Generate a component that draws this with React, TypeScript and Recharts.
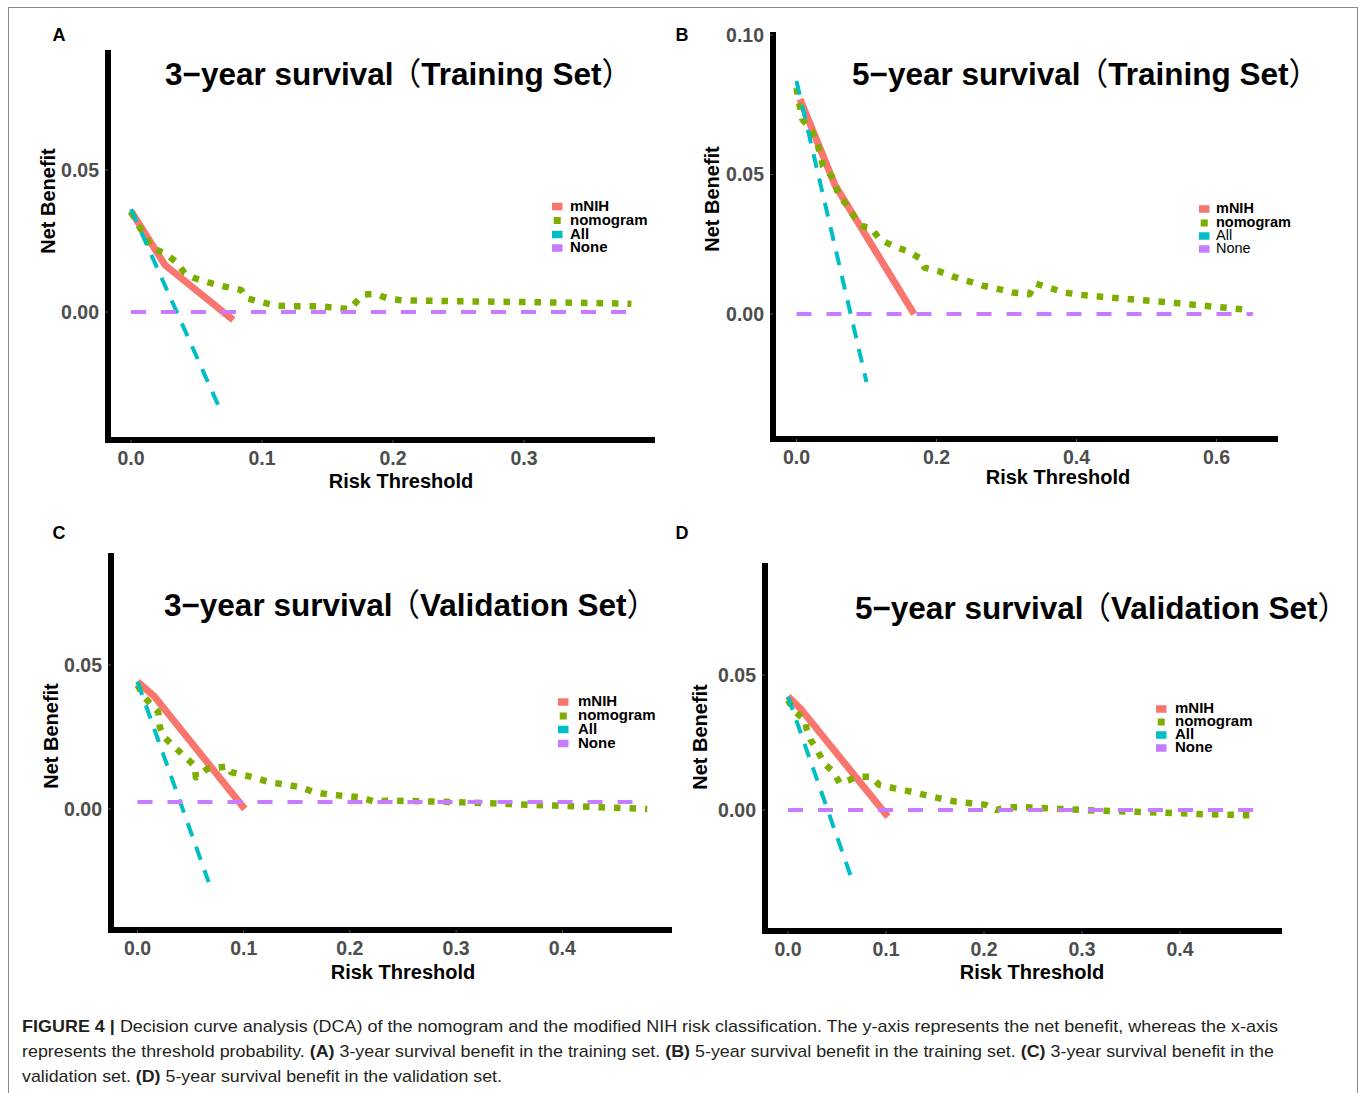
import React from 'react';
import { LineChart, Line, XAxis, YAxis } from 'recharts';

// ---------- colours ----------
const C_MNIH = '#F8766D';
const C_NOM = '#7CAE00';
const C_ALL = '#00BFC4';
const C_NONE = '#C77CFF';

// ---------- Panel A: 3-year survival (Training Set) ----------
const aMnihX = [0, 0.026, 0.078];
const aMnihY = [0.0355, 0.0165, -0.0028];
const aNomX = [0, 0.007, 0.016, 0.026, 0.034, 0.041, 0.048, 0.059, 0.071, 0.084, 0.088, 0.1, 0.111, 0.123, 0.145, 0.167, 0.177, 0.186, 0.197, 0.208, 0.25, 0.3, 0.35, 0.382];
const aNomY = [0.0352, 0.0295, 0.0225, 0.0207, 0.0178, 0.0137, 0.012, 0.0104, 0.009, 0.0078, 0.0049, 0.0034, 0.0022, 0.002, 0.002, 0.001, 0.0061, 0.0064, 0.0046, 0.0041, 0.0038, 0.0035, 0.0032, 0.0029];
const aAllX = [0, 0.0685];
const aAllY = [0.0362, -0.0348];
const aNoneX = [0, 0.382];
const aNoneY = [0, 0];
const aXTicks = [0, 0.1, 0.2, 0.3];
const aYTicks = [0, 0.05];

// ---------- Panel B: 5-year survival (Training Set) ----------
const bMnihX = [0.005, 0.055, 0.168];
const bMnihY = [0.077, 0.0462, 0];
const bNomX = [0, 0.008, 0.023, 0.031, 0.038, 0.053, 0.06, 0.072, 0.082, 0.095, 0.107, 0.119, 0.139, 0.159, 0.176, 0.183, 0.205, 0.225, 0.245, 0.267, 0.289, 0.309, 0.333, 0.341, 0.36, 0.383, 0.405, 0.447, 0.491, 0.535, 0.58, 0.619, 0.649];
const bNomY = [0.081, 0.07, 0.065, 0.06, 0.053, 0.0486, 0.0427, 0.039, 0.035, 0.0314, 0.0308, 0.0267, 0.0243, 0.0225, 0.02, 0.0166, 0.0152, 0.0133, 0.0118, 0.0101, 0.0089, 0.0077, 0.0071, 0.0109, 0.0095, 0.0077, 0.0069, 0.0059, 0.005, 0.0041, 0.003, 0.0021, 0.0014];
const bAllX = [0, 0.1];
const bAllY = [0.0835, -0.0244];
const bNoneX = [0, 0.652];
const bNoneY = [0, 0];
const bXTicks = [0, 0.2, 0.4, 0.6];
const bYTicks = [0, 0.05, 0.1];

// ---------- Panel C: 3-year survival (Validation Set) ----------
const cMnihX = [0, 0.016, 0.101];
const cMnihY = [0.0442, 0.039, 0];
const cNomX = [0, 0.0075, 0.0195, 0.021, 0.025, 0.035, 0.045, 0.054, 0.055, 0.066, 0.078, 0.086, 0.088, 0.109, 0.124, 0.139, 0.153, 0.167, 0.181, 0.21, 0.222, 0.235, 0.266, 0.307, 0.352, 0.393, 0.437, 0.48];
const cNomY = [0.043, 0.0384, 0.0337, 0.0285, 0.025, 0.0215, 0.018, 0.015, 0.011, 0.014, 0.0145, 0.0148, 0.0128, 0.011, 0.0093, 0.0085, 0.0076, 0.0058, 0.005, 0.0041, 0.0027, 0.0029, 0.0027, 0.0023, 0.0017, 0.0012, 0.0006, 0];
const cAllX = [0, 0.067];
const cAllY = [0.0442, -0.0254];
const cNoneX = [0, 0.478];
const cNoneY = [0.0024, 0.0024];
const cXTicks = [0, 0.1, 0.2, 0.3, 0.4];
const cYTicks = [0, 0.05];

// ---------- Panel D: 5-year survival (Validation Set) ----------
const dMnihX = [0, 0.014, 0.102];
const dMnihY = [0.042, 0.037, -0.0025];
const dNomX = [0, 0.007, 0.0176, 0.019, 0.023, 0.03, 0.037, 0.046, 0.053, 0.062, 0.07, 0.085, 0.093, 0.109, 0.123, 0.139, 0.155, 0.171, 0.187, 0.202, 0.213, 0.222, 0.243, 0.278, 0.313, 0.349, 0.384, 0.419, 0.447, 0.48];
const dNomY = [0.0407, 0.0364, 0.0333, 0.03, 0.026, 0.022, 0.0173, 0.0142, 0.0099, 0.011, 0.0123, 0.0123, 0.0093, 0.008, 0.007, 0.0056, 0.0043, 0.0031, 0.0025, 0.0019, 0, 0.001, 0.001, 0.0004, -0.0002, -0.0006, -0.001, -0.0015, -0.0017, -0.0021];
const dAllX = [0, 0.066];
const dAllY = [0.042, -0.0265];
const dNoneX = [0, 0.48];
const dNoneY = [0, 0];
const dXTicks = [0, 0.1, 0.2, 0.3, 0.4];
const dYTicks = [0, 0.05];

const seriesNames = ['mNIH', 'nomogram', 'All', 'None'];

const FONT = "'Liberation Sans', Arial, Helvetica, sans-serif";
const TITLE_FONT = "'Liberation Sans', Arial, 'Noto Sans CJK SC', sans-serif";

function pts(xs: number[], ys: number[]) {
  return xs.map((x, i) => ({ x, y: ys[i] }));
}

type PanelCfg = {
  box: { left: number; top: number; right: number; bottom: number };
  xDomain: [number, number];
  yDomain: [number, number];
  xTicks: number[];
  yTicks: number[];
  xDec: number;
  yDec: number;
  mnih: { x: number; y: number }[];
  nom: { x: number; y: number }[];
  all: { x: number; y: number }[];
  none: { x: number; y: number }[];
};

const panels: PanelCfg[] = [
  {
    box: { left: 108, top: 53, right: 652, bottom: 440 },
    xDomain: [(108 - 131) / 1310, (652 - 131) / 1310],
    yDomain: [(312 - 440) / 2840, (312 - 53) / 2840],
    xTicks: aXTicks, yTicks: aYTicks, xDec: 1, yDec: 2,
    mnih: pts(aMnihX, aMnihY), nom: pts(aNomX, aNomY), all: pts(aAllX, aAllY), none: pts(aNoneX, aNoneY),
  },
  {
    box: { left: 773, top: 35, right: 1275, bottom: 439 },
    xDomain: [(773 - 796.5) / 700, (1275 - 796.5) / 700],
    yDomain: [(314 - 439) / 2790, (314 - 35) / 2790],
    xTicks: bXTicks, yTicks: bYTicks, xDec: 1, yDec: 2,
    mnih: pts(bMnihX, bMnihY), nom: pts(bNomX, bNomY), all: pts(bAllX, bAllY), none: pts(bNoneX, bNoneY),
  },
  {
    box: { left: 111, top: 556, right: 669, bottom: 930 },
    xDomain: [(111 - 137.5) / 1062, (669 - 137.5) / 1062],
    yDomain: [(809 - 930) / 2880, (809 - 556) / 2880],
    xTicks: cXTicks, yTicks: cYTicks, xDec: 1, yDec: 2,
    mnih: pts(cMnihX, cMnihY), nom: pts(cNomX, cNomY), all: pts(cAllX, cAllY), none: pts(cNoneX, cNoneY),
  },
  {
    box: { left: 765, top: 566, right: 1279, bottom: 931 },
    xDomain: [(765 - 788) / 980, (1279 - 788) / 980],
    yDomain: [(810 - 931) / 2700, (810 - 566) / 2700],
    xTicks: dXTicks, yTicks: dYTicks, xDec: 1, yDec: 2,
    mnih: pts(dMnihX, dMnihY), nom: pts(dNomX, dNomY), all: pts(dAllX, dAllY), none: pts(dNoneX, dNoneY),
  },
];

const YW = 70;
const XH = 45;
const MT = 20;
const MR = 10;

function Panel({ cfg }: { cfg: PanelCfg }) {
  const { left, top, right, bottom } = cfg.box;
  const width = right - left + YW + MR;
  const height = bottom - top + XH + MT;
  const tickStyle = { fill: '#4D4D4D', fontSize: 19.5, fontWeight: 700, fontFamily: FONT };
  const axisLine = { stroke: '#000', strokeWidth: 6, strokeLinecap: 'square' as const };
  return (
    <div style={{ position: 'absolute', left: left - YW, top: top - MT }}>
      <LineChart width={width} height={height} margin={{ top: MT, right: MR, bottom: 0, left: 0 }}>
        <XAxis
          type="number"
          dataKey="x"
          scale="linear"
          domain={cfg.xDomain}
          ticks={cfg.xTicks}
          interval={0}
          allowDataOverflow
          tickFormatter={(v: number) => v.toFixed(cfg.xDec)}
          height={XH}
          axisLine={axisLine}
          tickLine={{ stroke: '#555', strokeWidth: 1 }}
          tickSize={3}
          tickMargin={8}
          tick={tickStyle}
        />
        <YAxis
          type="number"
          dataKey="y"
          scale="linear"
          domain={cfg.yDomain}
          ticks={cfg.yTicks}
          interval={0}
          allowDataOverflow
          tickFormatter={(v: number) => v.toFixed(cfg.yDec)}
          width={YW}
          axisLine={axisLine}
          tickLine={{ stroke: '#555', strokeWidth: 1 }}
          tickSize={3}
          tickMargin={6}
          tick={tickStyle}
        />
        <Line data={cfg.mnih} dataKey="y" type="linear" stroke={C_MNIH} strokeWidth={7} dot={false} isAnimationActive={false} strokeLinejoin="round" />
        <Line data={cfg.nom} dataKey="y" type="linear" stroke={C_NOM} strokeWidth={6.5} strokeDasharray="6.5 9" dot={false} isAnimationActive={false} strokeLinejoin="round" />
        <Line data={cfg.all} dataKey="y" type="linear" stroke={C_ALL} strokeWidth={4} strokeDasharray="14 11" dot={false} isAnimationActive={false} />
        <Line data={cfg.none} dataKey="y" type="linear" stroke={C_NONE} strokeWidth={4} strokeDasharray="15 15" dot={false} isAnimationActive={false} />
      </LineChart>
    </div>
  );
}

type LegendCfg = { keyX: number; textX: number; rows: number[]; fontSize: number; lightLast?: boolean };
const legends: LegendCfg[] = [
  { keyX: 552, textX: 570, rows: [205.5, 219.5, 233.5, 247], fontSize: 15 },
  { keyX: 1199, textX: 1216, rows: [208, 222, 235, 248], fontSize: 14.5, lightLast: true },
  { keyX: 558, textX: 578, rows: [701, 715, 728.5, 742.5], fontSize: 15 },
  { keyX: 1156, textX: 1175, rows: [708, 721, 734, 747], fontSize: 15 },
];
const keyColors = [C_MNIH, C_NOM, C_ALL, C_NONE];

function Legends() {
  return (
    <g>
      {legends.map((l, li) => (
        <g key={li}>
          {seriesNames.map((n, i) => {
            const small = i === 1;
            const kw = small ? 7 : 10.5;
            const kh = small ? 7 : 7.5;
            return (
              <g key={n}>
                <rect x={l.keyX + (10.5 - kw) / 2} y={l.rows[i] - kh / 2 + 1} width={kw} height={kh} fill={keyColors[i]} />
                <text
                  x={l.textX}
                  y={l.rows[i] + l.fontSize * 0.36}
                  fontSize={l.fontSize}
                  fontFamily={FONT}
                  fontWeight={l.lightLast && i >= 2 ? 400 : 700}
                  fill="#000"
                >
                  {n}
                </text>
              </g>
            );
          })}
        </g>
      ))}
    </g>
  );
}

const titles = [
  { x: 399, y: 85, pre: '3−year survival', inner: 'Training Set' },
  { x: 1086, y: 85, pre: '5−year survival', inner: 'Training Set' },
  { x: 411, y: 616, pre: '3−year survival', inner: 'Validation Set' },
  { x: 1102, y: 619, pre: '5−year survival', inner: 'Validation Set' },
];
const xLabels = [
  { x: 401, y: 488 },
  { x: 1058, y: 484 },
  { x: 403, y: 979 },
  { x: 1032, y: 979 },
];
const yLabels = [
  { x: 55, y: 201 },
  { x: 719, y: 199 },
  { x: 58, y: 736 },
  { x: 707, y: 737 },
];
const letters = [
  { t: 'A', x: 59, y: 41 },
  { t: 'B', x: 682, y: 41 },
  { t: 'C', x: 59, y: 539 },
  { t: 'D', x: 682, y: 539 },
];

function Overlay() {
  return (
    <svg width={1360} height={1093} style={{ position: 'absolute', left: 0, top: 0, pointerEvents: 'none' }}>
      {titles.map((t, i) => (
        <text key={i} x={t.x} y={t.y} textAnchor="middle" fontSize={31.5} fontWeight={700} fontFamily={TITLE_FONT} fill="#000">
          {t.pre}
          <tspan fontWeight={400} dx={-4}>（</tspan>
          {t.inner}
          <tspan fontWeight={400}>）</tspan>
        </text>
      ))}
      {xLabels.map((l, i) => (
        <text key={i} x={l.x} y={l.y} textAnchor="middle" fontSize={20} fontWeight={700} fontFamily={FONT} fill="#000">
          Risk Threshold
        </text>
      ))}
      {yLabels.map((l, i) => (
        <text key={i} x={l.x} y={l.y} textAnchor="middle" fontSize={20} fontWeight={700} fontFamily={FONT} fill="#000" transform={`rotate(-90 ${l.x} ${l.y})`}>
          Net Benefit
        </text>
      ))}
      {letters.map((l) => (
        <text key={l.t} x={l.x} y={l.y} textAnchor="middle" fontSize={18} fontWeight={700} fontFamily={FONT} fill="#000">
          {l.t}
        </text>
      ))}
      <Legends />
      <g fontFamily={FONT} fontSize={17} fill="#231F20">
        <text x={22} y={1032} textLength={1256} lengthAdjust="spacingAndGlyphs">
          <tspan fontWeight={700}>FIGURE 4 |</tspan> Decision curve analysis (DCA) of the nomogram and the modified NIH risk classification. The y-axis represents the net benefit, whereas the x-axis
        </text>
        <text x={22} y={1057} textLength={1252} lengthAdjust="spacingAndGlyphs">
          represents the threshold probability. <tspan fontWeight={700}>(A)</tspan> 3-year survival benefit in the training set. <tspan fontWeight={700}>(B)</tspan> 5-year survival benefit in the training set. <tspan fontWeight={700}>(C)</tspan> 3-year survival benefit in the
        </text>
        <text x={22} y={1082} textLength={480} lengthAdjust="spacingAndGlyphs">
          validation set. <tspan fontWeight={700}>(D)</tspan> 5-year survival benefit in the validation set.
        </text>
      </g>
    </svg>
  );
}

export default function App() {
  return (
    <div style={{ position: 'absolute', left: 0, top: 0, width: 1360, height: 1093, background: '#fff', overflow: 'hidden' }}>
      <div style={{ position: 'absolute', left: 8, top: 7, width: 1348, height: 1200, borderLeft: '1px solid #8a8a8a', borderTop: '1px solid #8a8a8a', borderRight: '1px solid #8a8a8a' }} />
      {panels.map((p, i) => (
        <Panel key={i} cfg={p} />
      ))}
      <Overlay />
    </div>
  );
}
